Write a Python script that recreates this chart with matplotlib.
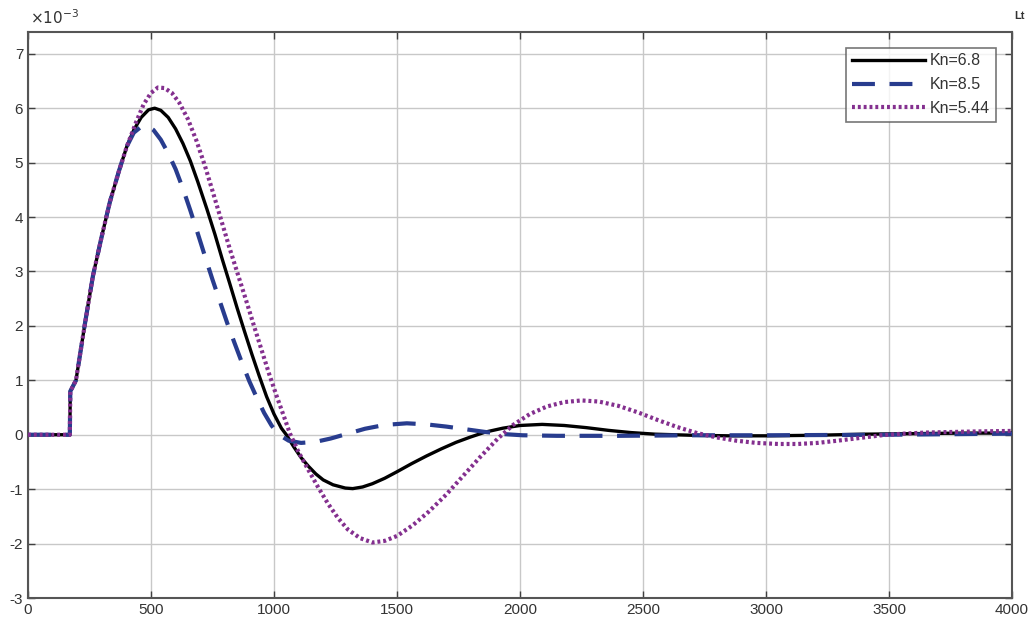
import matplotlib
matplotlib.use("Agg")
import matplotlib.pyplot as plt

# ---- data (values in units of 1e-3) ----
t_black = [0, 170, 172, 178, 195, 230, 264, 300, 333, 370, 402, 430, 460, 490, 515, 540, 570, 600,
           630, 660, 690, 727, 760, 790, 820, 850, 880, 910, 940, 970, 1000, 1030, 1050, 1080, 1110,
           1140, 1170, 1200, 1240, 1290, 1320, 1360, 1400, 1450, 1500, 1560, 1620, 1680, 1740, 1800,
           1860, 1930, 2000, 2090, 2180, 2270, 2360, 2450, 2550, 2700, 2850, 3000, 3200, 3400, 3600,
           3800, 4000]
v_black = [0, 0, 0.8, 0.85, 1.0, 2.0, 2.92, 3.65, 4.28, 4.85, 5.3, 5.6, 5.83, 5.97, 6.0, 5.96, 5.83,
           5.62, 5.35, 5.03, 4.65, 4.15, 3.68, 3.22, 2.78, 2.33, 1.9, 1.48, 1.08, 0.7, 0.38, 0.12, 0.0,
           -0.22, -0.42, -0.58, -0.72, -0.83, -0.92, -0.98, -0.99, -0.96, -0.9, -0.8, -0.68, -0.53,
           -0.39, -0.26, -0.14, -0.04, 0.05, 0.12, 0.17, 0.19, 0.17, 0.13, 0.08, 0.04, 0.01, -0.01,
           -0.02, -0.02, -0.01, 0.01, 0.02, 0.03, 0.03]

t_blue = [0, 170, 172, 178, 195, 230, 264, 300, 333, 370, 402, 430, 460, 484, 510, 540, 570, 600,
          630, 660, 690, 720, 750, 780, 810, 840, 870, 900, 930, 960, 990, 1020, 1060, 1110, 1170,
          1230, 1300, 1370, 1450, 1540, 1620, 1700, 1780, 1860, 1940, 2010, 2150, 2400, 2700, 3000,
          3500, 4000]
v_blue = [0, 0, 0.8, 0.85, 1.0, 2.0, 2.92, 3.65, 4.28, 4.85, 5.3, 5.55, 5.66, 5.68, 5.6, 5.42, 5.17,
          4.88, 4.52, 4.12, 3.7, 3.27, 2.85, 2.45, 2.05, 1.68, 1.32, 0.98, 0.68, 0.4, 0.17, 0.0,
          -0.11, -0.15, -0.13, -0.07, 0.02, 0.11, 0.18, 0.21, 0.19, 0.15, 0.1, 0.05, 0.01, -0.01,
          -0.02, -0.02, -0.01, -0.01, 0.0, 0.02]

t_purple = [0, 170, 172, 178, 195, 230, 264, 300, 333, 370, 402, 440, 470, 500, 528, 555, 585, 615,
            650, 685, 720, 752, 785, 820, 855, 890, 920, 950, 980, 1010, 1040, 1065, 1100, 1140, 1180,
            1220, 1260, 1300, 1350, 1400, 1450, 1500, 1565, 1630, 1700, 1770, 1840, 1910, 1972, 2040,
            2110, 2180, 2250, 2320, 2400, 2480, 2560, 2640, 2720, 2800, 2880, 2960, 3050, 3130, 3210,
            3290, 3380, 3470, 3560, 3650, 3750, 3850, 4000]
v_purple = [0, 0, 0.8, 0.85, 1.0, 2.0, 2.92, 3.65, 4.28, 4.85, 5.3, 5.75, 6.07, 6.28, 6.38, 6.37,
            6.28, 6.1, 5.8, 5.4, 4.93, 4.45, 3.95, 3.42, 2.92, 2.42, 1.98, 1.55, 1.12, 0.72, 0.34,
            0.02, -0.32, -0.65, -0.97, -1.27, -1.53, -1.74, -1.9, -1.98, -1.95, -1.86, -1.66, -1.41,
            -1.1, -0.75, -0.4, -0.07, 0.18, 0.38, 0.52, 0.6, 0.63, 0.61, 0.53, 0.41, 0.27, 0.14, 0.03,
            -0.05, -0.11, -0.15, -0.17, -0.17, -0.15, -0.11, -0.06, -0.01, 0.02, 0.04, 0.05, 0.06,
            0.07]

labels = ["Kn=6.8", "Kn=8.5", "Kn=5.44"]
x_ticks = [0, 500, 1000, 1500, 2000, 2500, 3000, 3500, 4000]
y_ticks = [-3, -2, -1, 0, 1, 2, 3, 4, 5, 6, 7]

plt.rcParams['font.family'] = ['Liberation Sans', 'DejaVu Sans']
plt.rcParams['axes.unicode_minus'] = False

fig = plt.figure(figsize=(10.28, 6.25), dpi=100)
ax = fig.add_axes([28 / 1028, 1 - 598 / 625, (1012 - 28) / 1028, (598 - 32) / 625])

ax.plot(t_black, v_black, color='black', lw=2.4, label=labels[0], zorder=3)
ax.plot(t_blue, v_blue, color='#283c8e', lw=3.0, ls=(0, (5.5, 3.5)), label=labels[1], zorder=4)
ax.plot(t_purple, v_purple, color='#84308f', lw=3.0, ls=(0, (0.7, 0.7)), label=labels[2], zorder=5)

ax.set_xlim(0, 4000)
ax.set_ylim(-3, 7.4)
ax.set_xticks(x_ticks)
ax.set_yticks(y_ticks)
ax.grid(True, color='#c8c8c8', lw=1.0)
ax.set_axisbelow(True)
ax.tick_params(direction='in', length=5, width=1, color='#404040', labelsize=11,
               top=True, right=True, labelcolor='#333333')
for s in ax.spines.values():
    s.set_color('#555555')
    s.set_linewidth(1.5)

leg = ax.legend(loc='upper right', bbox_to_anchor=(0.9835, 0.972), fontsize=11.5, frameon=True,
                fancybox=False, edgecolor='#555555', handlelength=4.6, borderpad=0.35,
                labelspacing=0.55, handletextpad=0.3, borderaxespad=0.0)
leg.get_frame().set_linewidth(1.2)
for txt in leg.get_texts():
    txt.set_color('#333333')

fig.text(30 / 1028, 1 - 18 / 625, r'$\times10^{-3}$', fontsize=11, color='#333333', va='center')
fig.text(1014 / 1028, 1 - 16 / 625, 'Lt', fontsize=8, color='#333333', va='center', weight='bold')

fig.savefig('out.png', dpi=100)
